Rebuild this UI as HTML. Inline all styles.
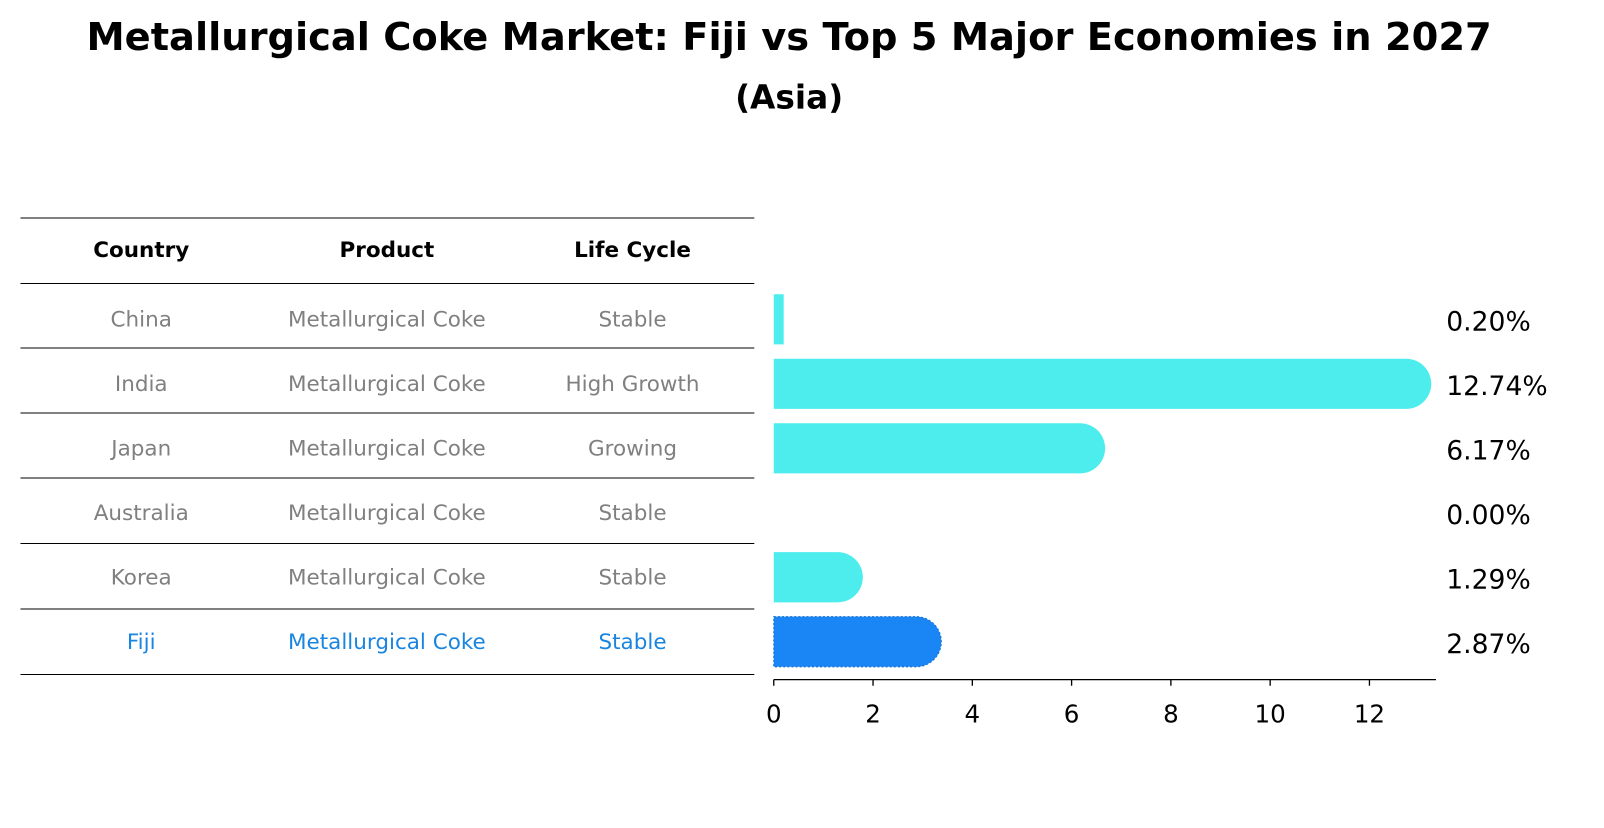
<!DOCTYPE html>
<html><head><meta charset="utf-8"><style>
body{margin:0;background:#fff;font-family:"Liberation Sans","DejaVu Sans",sans-serif;}
svg text{font-family:"DejaVu Sans","Liberation Sans",sans-serif;}
</style></head><body>
<svg width="1604" height="823" xmlns="http://www.w3.org/2000/svg">
<g transform="scale(1.0235)">
<text x="771" y="49" text-anchor="middle" font-size="37.5" font-weight="bold">Metallurgical Coke Market: Fiji vs Top 5 Major Economies in 2027</text>
<text x="771" y="106" text-anchor="middle" font-size="32" font-weight="bold">(Asia)</text>
<g id="table"></g>
<g id="bars"></g>
</g>
</svg>
<script>
const countries=["China","India","Japan","Australia","Korea","Fiji"];
const products=["Metallurgical Coke","Metallurgical Coke","Metallurgical Coke","Metallurgical Coke","Metallurgical Coke","Metallurgical Coke"];
const lifecycle=["Stable","High Growth","Growing","Stable","Stable","Stable"];
const values=[0.20,12.74,6.17,0.00,1.29,2.87];
const ticks=[0,2,4,6,8,10,12];
const NS="http://www.w3.org/2000/svg";
function mk(t,a,p){const e=document.createElementNS(NS,t);for(const k in a)e.setAttribute(k,a[k]);p.appendChild(e);return e;}
const x=v=>756+v*48.5;
const rowY=i=>312+i*63;
const tbl=document.getElementById('table');
const lines=[213,277,340,403.5,467,531,595,659];
lines.forEach(y=>{const l=mk('line',{x1:20,x2:737,y1:y,y2:y,stroke:'#000','stroke-width':1},tbl);

});
const cx=[138,378,618];
["Country","Product","Life Cycle"].forEach((h,j)=>{const t=mk('text',{x:cx[j],y:245,'text-anchor':'middle','font-size':21,'font-weight':'bold','dominant-baseline':'middle'},tbl);t.textContent=h;

});
countries.forEach((c,i)=>{const col=c==="Fiji"?"#1a85e0":"#808080";
[c,products[i],lifecycle[i]].forEach((s,j)=>{const t=mk('text',{x:cx[j],y:rowY(i)+1,'text-anchor':'middle','font-size':21,fill:col,'dominant-baseline':'middle'},tbl);t.textContent=s;

});});
const g=document.getElementById('bars');
const h=49,r=24.5;
values.forEach((v,i)=>{const cy=rowY(i),y0=cy-h/2,xe=x(v);
const fiji=countries[i]==="Fiji";const fill=fiji?"#1a85f5":"#4deded";
if(v>0){let d;
if(v>=0.5){d=`M756 ${y0} H${xe} A${r} ${r} 0 0 1 ${xe} ${y0+h} H756 Z`;}
else{d=`M756 ${y0} H${xe} V${y0+h} H756 Z`;}
const p=mk('path',{d:d,fill:fill},g);
if(fiji){p.setAttribute('stroke','#1570d0');p.setAttribute('stroke-dasharray','2,2');}

}
const t=mk('text',{x:1413,y:cy+11,'font-size':26},g);t.textContent=v.toFixed(2)+"%";

});
const ax=mk('line',{x1:756,x2:1403,y1:664,y2:664,stroke:'#000','stroke-width':1.3},g);


ticks.forEach(v=>{const l=mk('line',{x1:x(v),x2:x(v),y1:664,y2:670,stroke:'#000','stroke-width':1.3},g);


const t=mk('text',{x:x(v),y:706,'text-anchor':'middle','font-size':24},g);t.textContent=v;

});
</script>
</body></html>
